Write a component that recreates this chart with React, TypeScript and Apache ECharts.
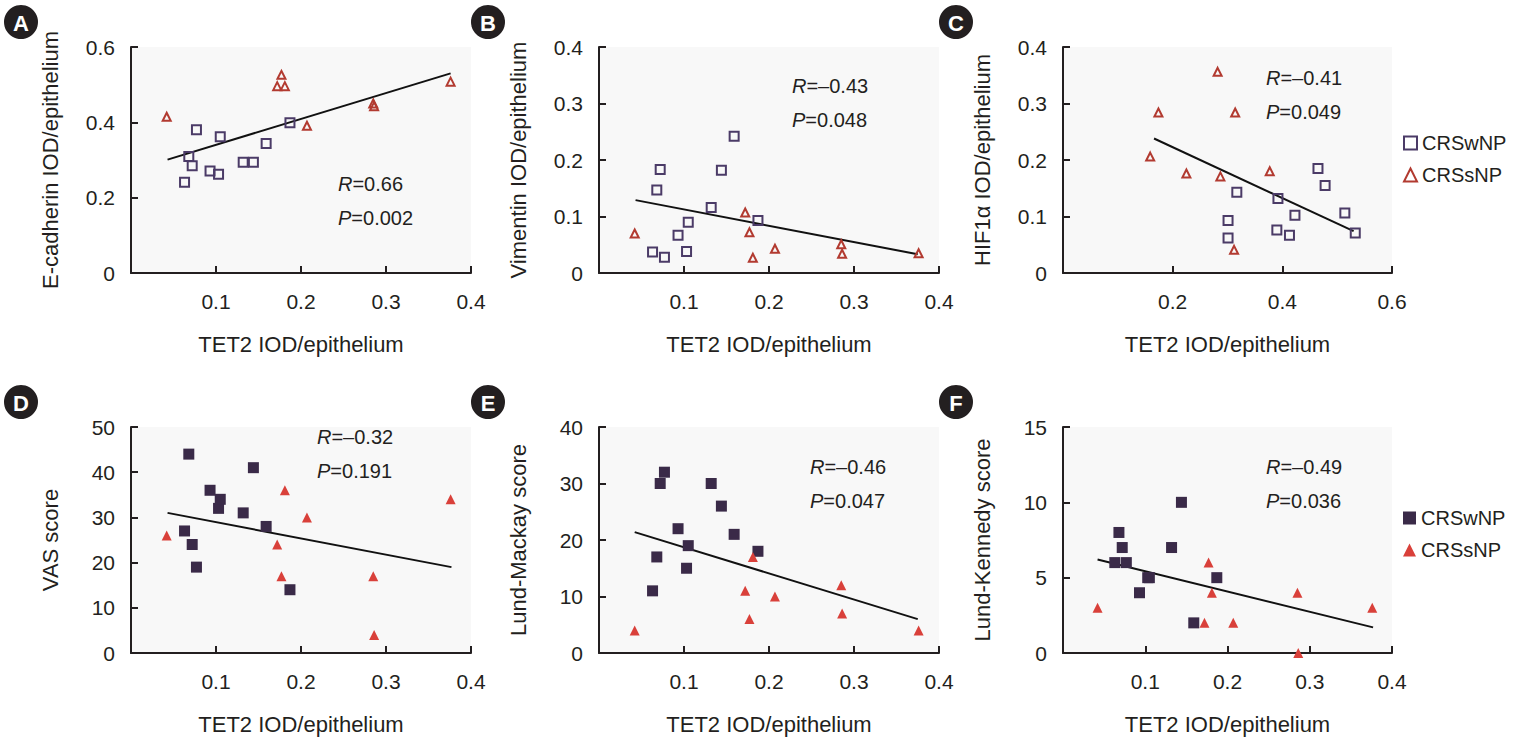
import React, { useEffect, useRef } from "react";
import * as echarts from "echarts";

// ---------- data ----------
// TET2 IOD/epithelium values shared by panels A, B, D, E, F
const tetWnp = [0.063, 0.068, 0.072, 0.077, 0.093, 0.103, 0.105, 0.132, 0.144, 0.159, 0.187];
const tetSnp = [0.042, 0.172, 0.177, 0.181, 0.207, 0.285, 0.286, 0.376];

// A: E-cadherin
const ecadWnp = [0.241, 0.309, 0.285, 0.38, 0.271, 0.262, 0.362, 0.294, 0.294, 0.344, 0.399];
const ecadSnp = [0.415, 0.496, 0.526, 0.496, 0.391, 0.45, 0.443, 0.508];
// B: Vimentin
const vimWnp = [0.037, 0.147, 0.183, 0.028, 0.067, 0.038, 0.09, 0.116, 0.182, 0.242, 0.093];
const vimSnp = [0.07, 0.107, 0.072, 0.027, 0.043, 0.051, 0.034, 0.035];
// C: HIF1α (own TET2 values)
const tetHifWnp = [0.301, 0.301, 0.317, 0.39, 0.392, 0.413, 0.423, 0.465, 0.478, 0.514, 0.533];
const hifWnp = [0.093, 0.062, 0.143, 0.076, 0.132, 0.067, 0.102, 0.185, 0.155, 0.106, 0.071];
const tetHifSnp = [0.159, 0.174, 0.225, 0.282, 0.287, 0.314, 0.312, 0.377];
const hifSnp = [0.206, 0.284, 0.176, 0.356, 0.171, 0.284, 0.041, 0.18];
// D: VAS
const vasWnp = [27, 44, 24, 19, 36, 32, 34, 31, 41, 28, 14];
const vasSnp = [26, 24, 17, 36, 30, 17, 4, 34];
// E: Lund-Mackay
const lmWnp = [11, 17, 30, 32, 22, 15, 19, 30, 26, 21, 18];
const lmSnp = [4, 11, 6, 17, 10, 12, 7, 4];
// F: Lund-Kennedy
const lkWnp = [6, 8, 7, 6, 4, 5, 5, 7, 10, 2, 5];
const lkSnp = [3, 2, 6, 4, 2, 4, 0, 3];

// regression line end points [x, y]
const fitA = [[0.043, 0.301], [0.376, 0.53]];
const fitB = [[0.043, 0.129], [0.375, 0.033]];
const fitC = [[0.166, 0.238], [0.53, 0.074]];
const fitD = [[0.043, 31.0], [0.377, 19.0]];
const fitE = [[0.042, 21.4], [0.375, 6.0]];
const fitF = [[0.042, 6.2], [0.377, 1.7]];

const stats = [
  { letter: "A", r: "0.66", p: "0.002" },
  { letter: "B", r: "\u20130.43", p: "0.048" },
  { letter: "C", r: "\u20130.41", p: "0.049" },
  { letter: "D", r: "\u20130.32", p: "0.191" },
  { letter: "E", r: "\u20130.46", p: "0.047" },
  { letter: "F", r: "\u20130.49", p: "0.036" },
];
const groupNames = ["CRSwNP", "CRSsNP"];
const xTitle = "TET2 IOD/epithelium";

// ---------- layout / style ----------
const FONT = "'Liberation Sans', Arial, Helvetica, sans-serif";
const TXT = "#231f20";
const SQ_LINE = "#4b3b67";
const TRI_LINE = "#b23a30";
const SQ_FILL = "#3a2a48";
const TRI_FILL = "#d9403a";

const zip = (xs: number[], ys: number[]) => xs.map((x, i) => [x, ys[i]]);

const panels = [
  { left: 131, top: 47, w: 340, xMax: 0.4, xInt: 0.1, yMax: 0.6, yInt: 0.2, yName: "E-cadherin IOD/epithelium",
    wnp: zip(tetWnp, ecadWnp), snp: zip(tetSnp, ecadSnp), fit: fitA, filled: false, badge: [21, 22], rp: [338, 184] },
  { left: 599, top: 47, w: 340, xMax: 0.4, xInt: 0.1, yMax: 0.4, yInt: 0.1, yName: "Vimentin IOD/epithelium",
    wnp: zip(tetWnp, vimWnp), snp: zip(tetSnp, vimSnp), fit: fitB, filled: false, badge: [488, 22], rp: [792, 86] },
  { left: 1063, top: 47, w: 329, xMax: 0.6, xInt: 0.2, yMax: 0.4, yInt: 0.1, yName: "HIF1\u03b1 IOD/epithelium",
    wnp: zip(tetHifWnp, hifWnp), snp: zip(tetHifSnp, hifSnp), fit: fitC, filled: false, badge: [956, 22], rp: [1266, 78] },
  { left: 131, top: 427, w: 340, xMax: 0.4, xInt: 0.1, yMax: 50, yInt: 10, yName: "VAS score",
    wnp: zip(tetWnp, vasWnp), snp: zip(tetSnp, vasSnp), fit: fitD, filled: true, badge: [21, 402], rp: [317, 437] },
  { left: 599, top: 427, w: 340, xMax: 0.4, xInt: 0.1, yMax: 40, yInt: 10, yName: "Lund-Mackay score",
    wnp: zip(tetWnp, lmWnp), snp: zip(tetSnp, lmSnp), fit: fitE, filled: true, badge: [488, 402], rp: [810, 467] },
  { left: 1063, top: 427, w: 329, xMax: 0.4, xInt: 0.1, yMax: 15, yInt: 5, yName: "Lund-Kennedy score",
    wnp: zip(tetWnp, lkWnp), snp: zip(tetSnp, lkSnp), fit: fitF, filled: true, badge: [956, 402], rp: [1266, 467] },
];

const fmt = (v: number) => {
  const s = Math.round(v * 1000) / 1000;
  return String(s);
};

function buildOption() {
  const grid = panels.map((p) => ({
    left: p.left, top: p.top, width: p.w, height: 226,
    show: true, backgroundColor: "#f8f8f8", borderWidth: 0,
  }));
  const axisCommon = {
    axisLine: { show: true, onZero: false, lineStyle: { color: TXT, width: 2 } },
    axisTick: { show: true, inside: true, length: 7, lineStyle: { color: TXT, width: 2 } },
    splitLine: { show: false },
  };
  const xAxis = panels.map((p, i) => ({
    ...axisCommon,
    gridIndex: i, type: "value", min: 0, max: p.xMax, interval: p.xInt,
    name: xTitle, nameLocation: "middle", nameGap: 60,
    nameTextStyle: { fontSize: 22, color: TXT, fontFamily: FONT },
    axisLabel: { fontSize: 21, color: TXT, fontFamily: FONT, margin: 18,
      formatter: (v: number) => (v === 0 ? "" : fmt(v)) },
  }));
  const yAxis = panels.map((p, i) => ({
    ...axisCommon,
    gridIndex: i, type: "value", min: 0, max: p.yMax, interval: p.yInt,
    name: p.yName, nameLocation: "middle", nameRotate: 90, nameGap: 70,
    nameTextStyle: { fontSize: 22, color: TXT, fontFamily: FONT },
    axisLabel: { fontSize: 21, color: TXT, fontFamily: FONT, margin: 16, formatter: (v: number) => fmt(v) },
  }));
  const series: any[] = [];
  panels.forEach((p, i) => {
    series.push({
      type: "line", xAxisIndex: i, yAxisIndex: i, data: p.fit, symbol: "none",
      lineStyle: { color: "#111", width: 2 }, z: 2, silent: true,
    });
    series.push({
      type: "scatter", name: groupNames[0], xAxisIndex: i, yAxisIndex: i, data: p.wnp,
      symbol: "rect", symbolSize: p.filled ? 11 : 9, z: 3,
      itemStyle: p.filled
        ? { color: SQ_FILL, opacity: 1 }
        : { color: "rgba(255,255,255,0)", borderColor: SQ_LINE, borderWidth: 2, opacity: 1 },
    });
    series.push({
      type: "scatter", name: groupNames[1], xAxisIndex: i, yAxisIndex: i, data: p.snp,
      symbol: "triangle", symbolSize: p.filled ? 10 : 8, z: 3,
      itemStyle: p.filled
        ? { color: TRI_FILL, opacity: 1 }
        : { color: "rgba(255,255,255,0)", borderColor: TRI_LINE, borderWidth: 2, opacity: 1 },
    });
  });

  const legendBase = {
    orient: "vertical", left: 1398, itemWidth: 13, itemHeight: 13, itemGap: 12,
    selectedMode: false,
    textStyle: { fontSize: 20, color: TXT, fontFamily: FONT },
  };
  const legend = [
    { ...legendBase, top: 128,
      data: [
        { name: groupNames[0], icon: "rect", itemStyle: { color: "rgba(255,255,255,0)", borderColor: SQ_LINE, borderWidth: 2 } },
        { name: groupNames[1], icon: "triangle", itemStyle: { color: "rgba(255,255,255,0)", borderColor: TRI_LINE, borderWidth: 2 } },
      ] },
    { ...legendBase, top: 503,
      data: [
        { name: groupNames[0], icon: "rect", itemStyle: { color: SQ_FILL, borderWidth: 0 } },
        { name: groupNames[1], icon: "triangle", itemStyle: { color: TRI_FILL, borderWidth: 0 } },
      ] },
  ];

  const graphic: any[] = [];
  panels.forEach((p, i) => {
    const st = stats[i];
    graphic.push({
      type: "group", silent: true,
      children: [
        { type: "circle", shape: { cx: p.badge[0], cy: p.badge[1], r: 17 }, style: { fill: "#231f20" } },
        { type: "text", x: p.badge[0], y: p.badge[1] + 1,
          style: { text: st.letter, fill: "#fff", fontSize: 22, fontWeight: "bold", fontFamily: FONT,
            align: "center", verticalAlign: "middle" } },
      ],
    });
    const rich = { i: { fontStyle: "italic", fontSize: 20, fontFamily: FONT, fill: TXT } };
    graphic.push({
      type: "text", x: p.rp[0], y: p.rp[1], silent: true,
      style: { text: "{i|R}=" + st.r, rich, fill: TXT, fontSize: 20, fontFamily: FONT,
        align: "left", verticalAlign: "middle" },
    });
    graphic.push({
      type: "text", x: p.rp[0], y: p.rp[1] + 34, silent: true,
      style: { text: "{i|P}=" + st.p, rich, fill: TXT, fontSize: 20, fontFamily: FONT,
        align: "left", verticalAlign: "middle" },
    });
  });

  return {
    animation: false,
    backgroundColor: "#ffffff",
    grid, xAxis, yAxis, series, legend, graphic,
  };
}

export default function App() {
  const ref = useRef<HTMLDivElement>(null);
  useEffect(() => {
    if (!ref.current) return;
    const chart = echarts.init(ref.current, undefined, { renderer: "svg" });
    chart.setOption(buildOption() as any);
    return () => chart.dispose();
  }, []);
  return (
    <div
      ref={ref}
      style={{ position: "fixed", left: 0, top: 0, width: 1520, height: 745, background: "#fff" }}
    />
  );
}
